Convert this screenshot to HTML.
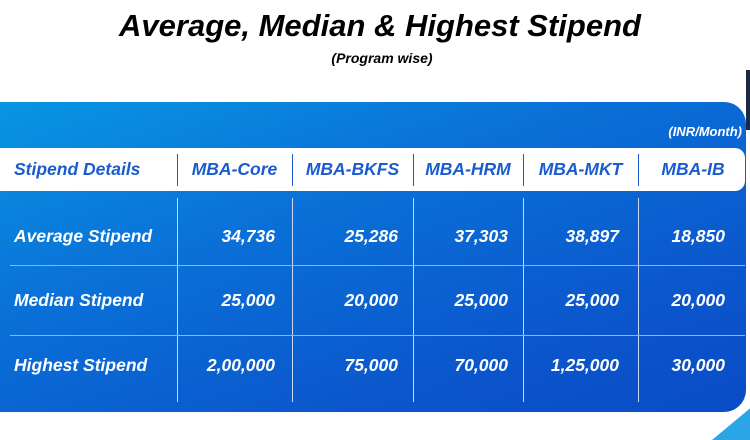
<!DOCTYPE html>
<html><head><style>
body{margin:0;width:750px;height:438px;background:#fff;position:relative;overflow:hidden;font-family:"Liberation Sans",sans-serif;font-weight:bold;font-style:italic}
.t{position:absolute;white-space:nowrap}
.panel{position:absolute;left:0;top:102px;width:746px;height:310px;border-radius:0 22px 22px 0;background:linear-gradient(160deg,#0896e2 0%,#0a72d8 35%,#0b56cc 75%,#0a4cc6 100%)}
.hdr{position:absolute;left:0;top:148px;width:745px;height:43px;background:#fff;border-radius:0 10px 10px 0}
.vl{position:absolute;width:1px;background:#c8d8f0}
.hl{position:absolute;left:10px;width:735px;height:1px;background:#8fb3ea}
.h{color:#1a5ccf;font-size:17.5px;top:159px}
.w{color:#fff;font-size:17.5px}
</style></head><body>
<div class="t" style="left:0;width:760px;text-align:center;top:8px;font-size:31px;color:#000">Average, Median &amp; Highest Stipend</div>
<div class="t" style="left:0;width:764px;text-align:center;top:50px;font-size:14px;color:#000">(Program wise)</div>
<div style="position:absolute;left:746px;top:70px;width:6px;height:60px;background:#1a2a44"></div>
<div style="position:absolute;left:700px;top:400px;width:60px;height:40px;background:#2aa6e6;clip-path:polygon(100% 0,100% 100%,20% 100%)"></div>
<div class="panel"></div>
<div class="t" style="right:8px;top:124px;font-size:13px;color:#fff">(INR/Month)</div>
<div class="hdr"></div>
<div class="vl" style="left:177px;top:154px;height:32px;background:#1a5ccf"></div>
<div class="vl" style="left:292px;top:154px;height:32px;background:#1a5ccf"></div>
<div class="vl" style="left:413px;top:154px;height:32px;background:#1a5ccf"></div>
<div class="vl" style="left:523px;top:154px;height:32px;background:#1a5ccf"></div>
<div class="vl" style="left:638px;top:154px;height:32px;background:#1a5ccf"></div>
<div class="vl" style="left:177px;top:198px;height:204px"></div>
<div class="vl" style="left:292px;top:198px;height:204px"></div>
<div class="vl" style="left:413px;top:198px;height:204px"></div>
<div class="vl" style="left:523px;top:198px;height:204px"></div>
<div class="vl" style="left:638px;top:198px;height:204px"></div>
<div class="hl" style="top:265px"></div>
<div class="hl" style="top:335px"></div>
<div class="t h" style="left:14px">Stipend Details</div>
<div class="t h" style="left:177px;width:115px;text-align:center">MBA-Core</div>
<div class="t h" style="left:292px;width:121px;text-align:center">MBA-BKFS</div>
<div class="t h" style="left:413px;width:110px;text-align:center">MBA-HRM</div>
<div class="t h" style="left:523px;width:115px;text-align:center">MBA-MKT</div>
<div class="t h" style="left:638px;width:110px;text-align:center">MBA-IB</div>

<div class="t w" style="left:14px;top:226px">Average Stipend</div>
<div class="t w" style="right:475px;top:226px">34,736</div>
<div class="t w" style="right:352px;top:226px">25,286</div>
<div class="t w" style="right:242px;top:226px">37,303</div>
<div class="t w" style="right:131px;top:226px">38,897</div>
<div class="t w" style="right:25px;top:226px">18,850</div>

<div class="t w" style="left:14px;top:290px">Median Stipend</div>
<div class="t w" style="right:475px;top:290px">25,000</div>
<div class="t w" style="right:352px;top:290px">20,000</div>
<div class="t w" style="right:242px;top:290px">25,000</div>
<div class="t w" style="right:131px;top:290px">25,000</div>
<div class="t w" style="right:25px;top:290px">20,000</div>

<div class="t w" style="left:14px;top:355px">Highest Stipend</div>
<div class="t w" style="right:475px;top:355px">2,00,000</div>
<div class="t w" style="right:352px;top:355px">75,000</div>
<div class="t w" style="right:242px;top:355px">70,000</div>
<div class="t w" style="right:131px;top:355px">1,25,000</div>
<div class="t w" style="right:25px;top:355px">30,000</div>
</body></html>
